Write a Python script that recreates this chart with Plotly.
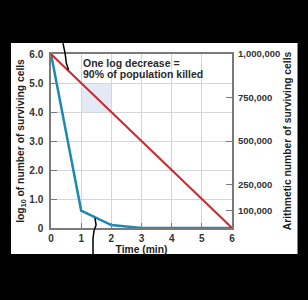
import plotly.graph_objects as go

time_min = [0, 1, 2, 3, 4, 5, 6]
log_red = [6, 5, 4, 3, 2, 1, 0]
log_blue = [6, 0.6, 0.1, 0, 0, 0, 0]
left_tickvals = [0, 1, 2, 3, 4, 5, 6]
left_ticktext = ["0", "1.0", "2.0", "3.0", "4.0", "5.0", "6.0"]
right_tickvals = [100000, 250000, 500000, 750000, 1000000]
right_ticktext = ["100,000", "250,000", "500,000", "750,000", "1,000,000"]
x_ticktext = ["0", "1", "2", "3", "4", "5", "6"]
note_lines = ["One log decrease =", "90% of population killed"]

FONT = "Liberation Sans, Arial, sans-serif"
fig = go.Figure()

fig.add_trace(go.Scatter(x=time_min, y=log_blue, mode="lines",
                         line=dict(color="#1b88b6", width=2.5), showlegend=False))
fig.add_trace(go.Scatter(x=time_min, y=log_red, mode="lines",
                         line=dict(color="#cc2a30", width=2), showlegend=False))
fig.add_trace(go.Scatter(x=[0, 6], y=[0, 1000000], yaxis="y2", mode="lines",
                         line=dict(width=0), hoverinfo="skip", showlegend=False))

# white panel
fig.add_shape(type="rect", xref="paper", yref="paper",
              x0=-0.221, x1=1.362, y0=-0.149, y1=1.063,
              fillcolor="white", line=dict(width=0), layer="below")
# shaded one-log box
fig.add_shape(type="rect", xref="x", yref="y", x0=1, x1=2, y0=4, y1=5,
              fillcolor="#e3eaf6", line=dict(width=0), layer="below")
# decorative black leader lines
fig.add_shape(type="path", xref="paper", yref="paper",
              path="M0.066,1.063 C0.075,1.02 0.082,0.99 0.084,0.95 L0.097,0.908",
              line=dict(color="black", width=1.5))
fig.add_shape(type="path", xref="paper", yref="paper",
              path="M0.243,0.0575 L0.249,0.017 C0.245,0.0 0.236,-0.01 0.236,-0.03 L0.232,-0.06 L0.232,-0.149",
              line=dict(color="black", width=1.5))

for line_text, ypos in zip(note_lines, [0.948, 0.883]):
    fig.add_annotation(xref="paper", yref="paper", x=0.168, y=ypos,
                       xanchor="left", yanchor="middle", align="left", showarrow=False,
                       text=line_text,
                       font=dict(family=FONT, size=10.5, color="#2a2a2a", weight="bold"))

tickfont = dict(family=FONT, size=10, color="#333333", weight="bold")
titlefont = dict(family=FONT, size=10.3, color="#1e1e1e", weight="bold")

fig.update_layout(
    width=308, height=300,
    margin=dict(l=51, r=76, t=54, b=72),
    paper_bgcolor="black", plot_bgcolor="white",
    xaxis=dict(range=[0, 6], tickvals=time_min, ticktext=x_ticktext,
               showgrid=True, gridcolor="#d6d6d6", gridwidth=1,
               showline=True, linecolor="#7a7a7a", linewidth=1.5, mirror=True,
               ticks="inside", ticklen=5, tickcolor="#7a7a7a",
               zeroline=False, tickfont=tickfont, ticklabelstandoff=0,
               title=dict(text="Time (min)", font=titlefont, standoff=1)),
    yaxis=dict(range=[0, 6], tickvals=left_tickvals, ticktext=left_ticktext,
               showgrid=True, gridcolor="#d6d6d6", gridwidth=1,
               showline=True, linecolor="#7a7a7a", linewidth=1.5, mirror=True,
               ticks="inside", ticklen=6, tickcolor="#7a7a7a",
               zeroline=False, tickfont=tickfont, ticklabelstandoff=4,
               title=dict(text="log<sub>10</sub> of number of surviving cells",
                          font=titlefont, standoff=3)),
    yaxis2=dict(range=[0, 1000000], overlaying="y", side="right",
                tickvals=right_tickvals, ticktext=right_ticktext,
                showgrid=False, zeroline=False, showline=False,
                ticks="inside", ticklen=6, tickcolor="#7a7a7a",
                tickfont=dict(family=FONT, size=9.5, color="#333333", weight="bold"),
                ticklabelstandoff=5,
                title=dict(text="Arithmetic number of surviving cells",
                           font=titlefont, standoff=4)),
)

fig.write_html("out.html")
